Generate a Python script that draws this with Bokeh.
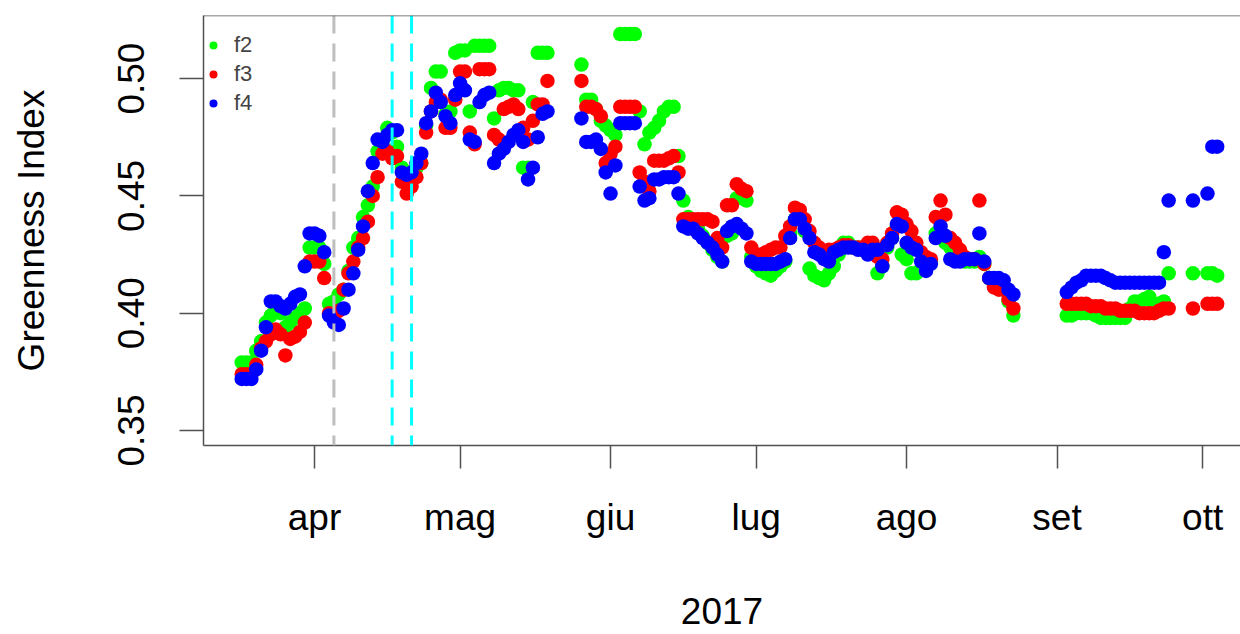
from bokeh.plotting import figure
from bokeh.models import FixedTicker, Span, Legend, LegendItem, Range1d, ColumnDataSource
from bokeh.embed import file_html
from bokeh.resources import INLINE

# day of year 2017
days = [76, 77, 78, 79, 80, 81, 82, 83, 84, 85, 86, 87, 88, 89, 90, 91, 92, 93, 94, 95,
        96, 97, 98, 99, 100, 101, 102, 103, 104, 105, 106, 107, 108, 109, 110, 111, 112, 113, 114, 115,
        116, 117, 118, 119, 120, 121, 122, 123, 124, 125, 126, 127, 128, 129, 130, 131, 132, 133, 134, 135,
        136, 137, 138, 139,
        146, 147, 148, 149, 150, 151, 152, 153, 154, 155, 156, 157, 158, 159, 160, 161, 162, 163, 164, 165,
        166, 167, 168, 169, 170, 171, 172, 173, 174, 175, 176, 177, 178, 179, 180, 181, 182, 183, 184, 185,
        186, 187, 188, 189, 190, 191, 192, 193, 194, 195, 196, 197, 198, 199, 200, 201, 202, 203, 204, 205,
        206, 207, 208, 209, 210, 211, 212, 213, 214, 215, 216, 217, 218, 219, 220, 221, 222, 223, 224, 225,
        226, 227, 228, 229, 230, 231, 232, 233, 234, 235,
        246, 247, 248, 249, 250, 251, 252, 253, 254, 255, 256, 257, 258, 259, 260, 261, 262, 263, 264, 265,
        266, 267, 272, 275, 276, 277]

f2 = [.379, .379, .379, .384, .388, .396, .399, .402, .400, .394, .396, .398, .400, .402, .428, .428, .428, .421, .404, .405,
      .408, .410, .418, .428, .432, .441, .446, .454, .469, .473, .479, .477, .471, .462, .460, .458, .462, .464, .480, .496,
      .503, .503, .485, .486, .511, .512, .512, .486, .514, .514, .514, .514, .483, .495, .496, .496, .495, .495, .462, .462,
      .490, .511, .511, .511,
      .506, .491, .491, .487, .482, .480, .478, .476, .519, .519, .519, .519, .486, .472, .477, .479, .482, .486, .488, .488,
      .467, .448, .441, .438, .436, .433, .430, .427, .424, .422, .433, .434, .449, .449, .448, .424, .420, .418, .417, .416,
      .418, .420, .422, .434, .440, .441, .435, .419, .416, .415, .414, .417, .420, .425, .430, .430, .428, .428, .427, .427,
      .426, .417, .420, .428, .432, .437, .425, .423, .417, .417, .419, .420, .422, .434, .433, .430, .428, .425, .423, .422,
      .422, .422, .424, .421, .415, .414, .413, .410, .405, .399,
      .399, .399, .400, .400, .400, .400, .399, .398, .398, .398, .398, .398, .398, .402, .405, .405, .406, .407, .403, .404,
      .405, .417, .417, .417, .417, .416]

f3 = [.374, .374, .374, .378, .385, .388, .391, .393, .391, .382, .389, .390, .392, .396, .422, .422, .422, .415, .400, .399,
      .401, .410, .417, .422, .428, .432, .439, .450, .458, .468, .469, .466, .467, .456, .451, .454, .458, .464, .477, .486,
      .490, .491, .479, .479, .491, .503, .503, .477, .472, .504, .504, .504, .476, .474, .487, .488, .489, .487, .479, .474,
      .482, .489, .489, .499,
      .499, .488, .488, .487, .484, .464, .468, .471, .488, .488, .488, .488, .460, .456, .452, .465, .465, .465, .466, .467,
      .460, .440, .440, .440, .440, .440, .440, .439, .432, .428, .446, .446, .455, .453, .452, .428, .424, .425, .426, .427,
      .428, .428, .433, .437, .445, .444, .440, .435, .430, .428, .425, .427, .427, .428, .429, .429, .428, .428, .428, .430,
      .430, .424, .423, .430, .434, .443, .442, .438, .435, .430, .426, .424, .423, .441, .448, .442, .432, .430, .427, .424,
      .423, .423, .448, .421, .415, .411, .410, .410, .406, .402,
      .404, .404, .404, .404, .404, .403, .403, .403, .402, .402, .402, .401, .401, .401, .401, .400, .400, .400, .400, .401,
      .402, .402, .402, .404, .404, .404]

f4 = [.372, .372, .372, .376, .384, .394, .405, .405, .403, .402, .404, .407, .408, .420, .434, .434, .433, .426, .399, .396,
      .395, .402, .410, .417, .427, .437, .452, .464, .474, .473, .476, .478, .478, .460, .459, .460, .464, .468, .481, .486,
      .494, .490, .484, .481, .493, .498, .495, .474, .473, .490, .493, .494, .464, .468, .470, .473, .476, .478, .473, .457,
      .462, .475, .485, .486,
      .483, .473, .473, .474, .470, .460, .451, .463, .481, .481, .481, .481, .454, .448, .449, .457, .457, .458, .458, .458,
      .451, .437, .436, .436, .434, .432, .430, .428, .425, .422, .435, .437, .438, .436, .434, .422, .421, .421, .421, .421,
      .421, .422, .423, .432, .440, .440, .436, .432, .426, .425, .423, .422, .426, .427, .428, .428, .428, .427, .427, .425,
      .427, .427, .420, .429, .432, .438, .437, .430, .428, .427, .422, .418, .421, .432, .437, .433, .423, .422, .422, .423,
      .423, .423, .434, .422, .415, .415, .415, .414, .410, .408,
      .409, .411, .413, .414, .416, .416, .416, .416, .415, .414, .413, .413, .413, .413, .413, .413, .413, .413, .413, .413,
      .426, .448, .448, .451, .471, .471]

series_names = ["f2", "f3", "f4"]
series_colors = ["#00FF00", "#FF0000", "#0000FF"]

month_ticks = [91, 121, 152, 182, 213, 244, 274]
month_labels = ["apr", "mag", "giu", "lug", "ago", "set", "ott"]
y_ticks = [0.35, 0.40, 0.45, 0.50]
y_tick_labels = ["0.35", "0.40", "0.45", "0.50"]
event_gray = [95]
event_cyan = [107, 111]
x_title = "2017"
y_title = "Greenness Index"

FONT = "Liberation Sans"
LINE = "#505050"
Y0, Y1 = 0.3436, 0.5269

p = figure(width=1240, height=634, output_backend="svg", toolbar_location=None,
           x_range=Range1d(68.13, 281.8), y_range=Range1d(Y0, Y1),
           min_border_left=203, min_border_right=0, min_border_top=15, min_border_bottom=189)
p.title.visible = False
p.outline_line_color = None
p.grid.visible = False
p.background_fill_color = "white"
p.border_fill_color = "white"

src = ColumnDataSource(dict(day=days, f2=f2, f3=f3, f4=f4))
items = []
for name, col in zip(series_names, series_colors):
    r = p.scatter("day", name, source=src, size=14.5, color=col, line_color=None, marker="circle")
    items.append(LegendItem(label=name, renderers=[r]))

for d in event_gray:
    p.add_layout(Span(location=d, dimension="height", line_color="#BEBEBE", line_width=3, line_dash="18 10"))
for d in event_cyan:
    p.add_layout(Span(location=d, dimension="height", line_color="#00FFFF", line_width=3, line_dash="18 10"))

p.add_layout(Span(location=Y1, dimension="width", line_color=LINE, line_width=1.5))

xa = p.xaxis[0]
xa.ticker = FixedTicker(ticks=month_ticks)
xa.major_label_overrides = {t: l for t, l in zip(month_ticks, month_labels)}
xa.major_tick_out = 23
xa.major_tick_in = 0
xa.minor_tick_out = 0
xa.minor_tick_in = 0
xa.major_label_standoff = 28
xa.major_label_text_font = FONT
xa.major_label_text_font_size = "37px"
xa.major_label_text_color = "black"
xa.axis_line_color = LINE
xa.axis_line_width = 1.5
xa.major_tick_line_color = LINE
xa.major_tick_line_width = 1.5
xa.axis_label = x_title
xa.axis_label_text_font = FONT
xa.axis_label_text_font_size = "37px"
xa.axis_label_text_font_style = "normal"
xa.axis_label_text_color = "black"
xa.axis_label_standoff = 57

ya = p.yaxis[0]
ya.ticker = FixedTicker(ticks=y_ticks)
ya.major_label_overrides = {t: l for t, l in zip(y_ticks, y_tick_labels)}
ya.major_label_orientation = "vertical"
ya.major_tick_out = 24
ya.major_tick_in = 0
ya.minor_tick_out = 0
ya.minor_tick_in = 0
ya.major_label_standoff = 35
ya.major_label_text_font = FONT
ya.major_label_text_font_size = "37px"
ya.major_label_text_color = "black"
ya.axis_line_color = LINE
ya.axis_line_width = 1.5
ya.major_tick_line_color = LINE
ya.major_tick_line_width = 1.5
ya.axis_label = y_title
ya.axis_label_text_font = FONT
ya.axis_label_text_font_size = "37px"
ya.axis_label_text_font_style = "normal"
ya.axis_label_text_color = "black"
ya.axis_label_standoff = 64

legend = Legend(items=items, location=(0, 329), padding=10, spacing=3, glyph_width=20, glyph_height=20,
                label_height=26, label_standoff=11, label_text_font=FONT, label_text_font_size="22px",
                background_fill_alpha=0, border_line_color=None)
p.add_layout(legend, "center")

open("out.html", "w").write(file_html(p, INLINE))
